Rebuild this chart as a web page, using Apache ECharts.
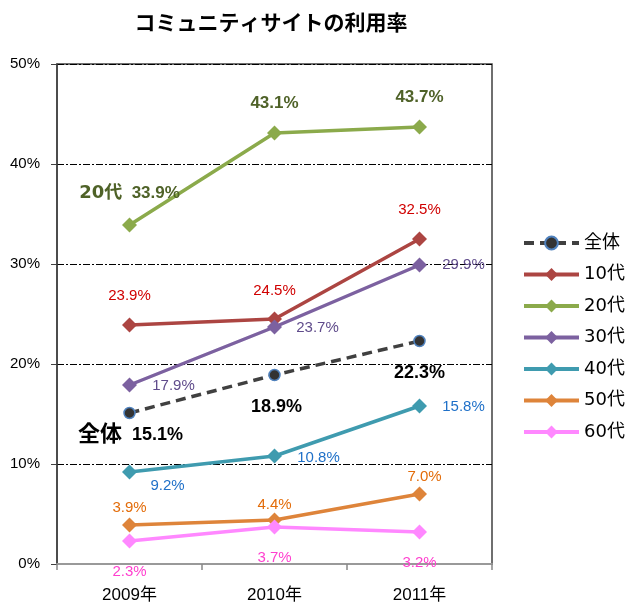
<!DOCTYPE html>
<html><head><meta charset="utf-8">
<script src="https://cdn.jsdelivr.net/npm/echarts@6/dist/echarts.min.js"></script>
<style>html,body{margin:0;padding:0;background:#fff}#c{width:640px;height:616px}</style>
</head><body><div id="c"></div>
<script>
const categories = ['2009年', '2010年', '2011年'];
const seriesNames = ['全体', '10代', '20代', '30代', '40代', '50代', '60代'];
const vAll = [15.1, 18.9, 22.3];
const v10 = [23.9, 24.5, 32.5];
const v20 = [33.9, 43.1, 43.7];
const v30 = [17.9, 23.7, 29.9];
const v40 = [9.2, 10.8, 15.8];
const v50 = [3.9, 4.4, 7.0];
const v60 = [2.3, 3.7, 3.2];
const yTicks = [0, 10, 20, 30, 40, 50];

const values = [vAll, v10, v20, v30, v40, v50, v60];
const lineColors = ['#404040', '#AC4542', '#8BAA4B', '#7C61A0', '#3F9BAF', '#DE843A', '#FF88FF'];
const labelColors = ['#000000', '#D00000', '#4F6228', '#5F4B8B', '#1F70C8', '#E36C09', '#FF3FCF'];
const labelOffsets = [
  [[1, 22], [2, 32], [0, 32]],
  [[0, -29], [0, -28], [0, -29]],
  [[0, -32], [0, -30], [0, -30]],
  [[44, 1], [43, 1], [44, 0]],
  [[38, 14], [44, 2], [44, 1]],
  [[0, -17], [0, -15], [5, -17]],
  [[0, 31], [0, 31], [0, 31]]
];
const labelFont = [
  {size: 18, weight: 'bold', prefixSize: 22}, {size: 15, weight: 'normal'}, {size: 17, weight: 'bold', prefixSize: 18},
  {size: 15, weight: 'normal'}, {size: 15, weight: 'normal'}, {size: 15, weight: 'normal'}, {size: 15, weight: 'normal'}
];
const prefixFirst = [true, false, true, false, false, false, false];
const FF = "'Liberation Sans', Arial, 'Noto Sans CJK JP', sans-serif";
const FW = "'DejaVu Sans', 'Noto Sans CJK JP', sans-serif";

const series = seriesNames.map((name, si) => ({
  name: name,
  type: 'line',
  symbol: si === 0 ? 'circle' : 'diamond',
  symbolSize: si === 0 ? 11 : 15,
  lineStyle: {color: lineColors[si], width: 3.5, type: si === 0 ? [10, 6] : 'solid'},
  itemStyle: si === 0 ? {color: '#333333', borderColor: '#4F81BD', borderWidth: 1.5} : {color: lineColors[si]},
  z: 2 + si,
  data: values[si].map((v, i) => ({
    value: v,
    label: {
      show: true, position: 'inside', offset: labelOffsets[si][i],
      color: labelColors[si], fontSize: labelFont[si].size, fontWeight: labelFont[si].weight, fontFamily: FF,
      formatter: (prefixFirst[si] && i === 0 ? '{p|' + name + '}  ' : '') + v.toFixed(1) + '%',
      rich: prefixFirst[si] ? {
        p: {fontFamily: FW, fontSize: labelFont[si].prefixSize, fontWeight: 'bold', color: labelColors[si]}
      } : undefined
    }
  }))
}));

const chart = echarts.init(document.getElementById('c'), null, {renderer: 'canvas'});
chart.setOption({
  animation: false,
  backgroundColor: '#ffffff',
  title: {
    text: 'コミュニティサイトの利用率', left: 266, top: 7, textAlign: 'center',
    textStyle: {fontSize: 21, fontWeight: 'bold', color: '#000', fontFamily: "'Noto Sans CJK JP', sans-serif"}
  },
  grid: {left: 57, right: 148, top: 64, bottom: 52, show: true, borderColor: '#404040', borderWidth: 1.5, backgroundColor: 'transparent'},
  legend: {
    orient: 'vertical', left: 517, top: 229, itemWidth: 55, itemHeight: 16, itemGap: 13.5,
    lineStyle: {width: 4},
    textStyle: {fontSize: 18, color: '#000', fontFamily: FW},
    data: seriesNames
  },
  xAxis: {
    type: 'category', data: categories, boundaryGap: true,
    axisLine: {lineStyle: {color: '#999999', width: 2}},
    axisTick: {show: true, length: 6, lineStyle: {color: '#888888', width: 1.5}},
    axisLabel: {fontSize: 17, color: '#000', margin: 23, fontFamily: FF}
  },
  yAxis: {
    type: 'value', min: yTicks[0], max: yTicks[yTicks.length - 1], interval: 10,
    axisLine: {show: true, lineStyle: {color: '#404040', width: 1.5}},
    axisTick: {show: true, length: 6, lineStyle: {color: '#404040'}},
    axisLabel: {fontSize: 15, color: '#000', margin: 17, fontFamily: FF, formatter: v => v + '%'},
    splitLine: {show: true, lineStyle: {color: '#000', width: 1, type: [7, 2, 2, 2]}}
  },
  series: series
});
</script>
</body></html>
